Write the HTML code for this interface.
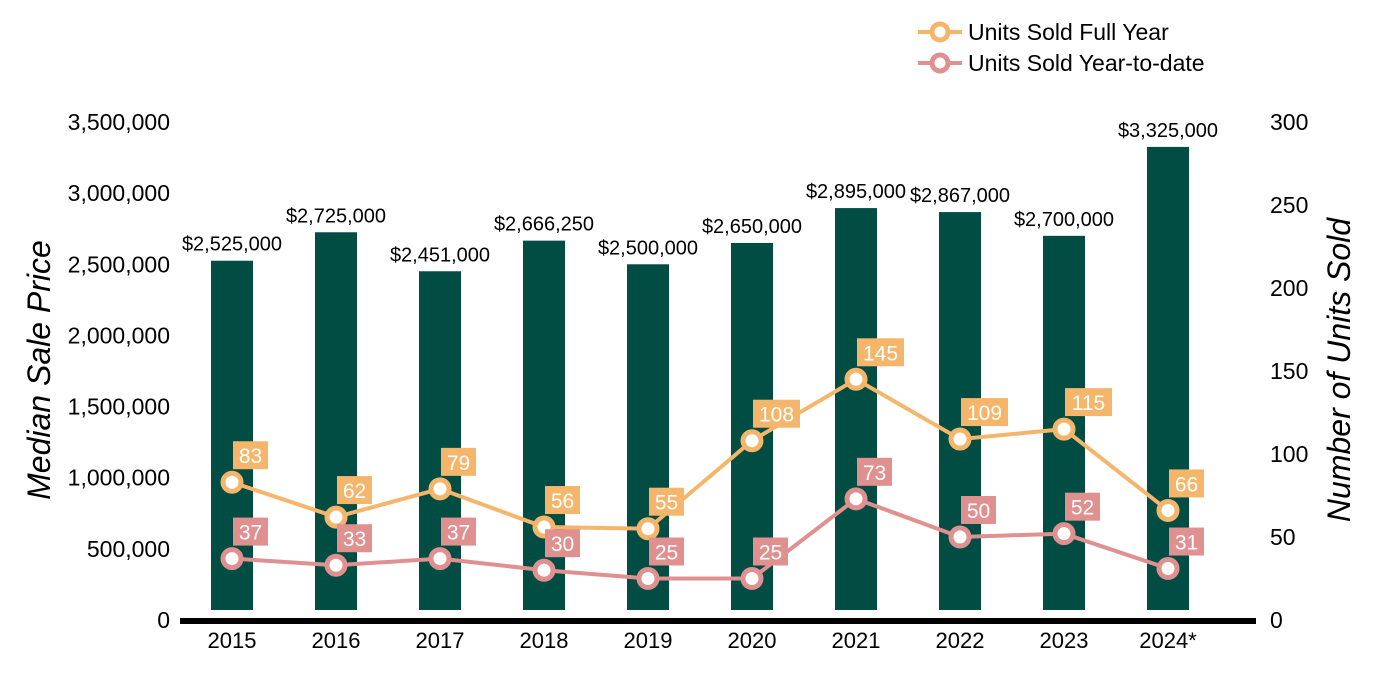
<!DOCTYPE html>
<html><head><meta charset="utf-8"><style>
body{margin:0;background:#fff;}
svg{display:block;font-family:"Liberation Sans",Arial,sans-serif;}
</style></head><body>
<svg id="chart" width="1400" height="700"></svg>
<script>
const years=["2015","2016","2017","2018","2019","2020","2021","2022","2023","2024*"];
const prices=[2525000,2725000,2451000,2666250,2500000,2650000,2895000,2867000,2700000,3325000];
const fullYear=[83,62,79,56,55,108,145,109,115,66];
const ytd=[37,33,37,30,25,25,73,50,52,31];
const leftTicks=[0,500000,1000000,1500000,2000000,2500000,3000000,3500000];
const rightTicks=[0,50,100,150,200,250,300];
const NS="http://www.w3.org/2000/svg";
const svg=document.getElementById('chart');
function el(t,a,p){const e=document.createElementNS(NS,t);for(const k in a)e.setAttribute(k,a[k]);(p||svg).appendChild(e);return e;}
const y0=620,yTop=122;
const yL=v=>y0-v/3500000*(y0-yTop);
const yR=v=>y0-v/300*(y0-yTop);
const xC=i=>232+i*104;
const fmt=v=>v.toLocaleString('en-US');
prices.forEach((v,i)=>{
  const r=el('rect',{x:xC(i)-21,y:yL(v),width:42,height:610-yL(v),fill:'#024D43'});
  
  
  const t=el('text',{x:xC(i),y:yL(v)-10,'text-anchor':'middle','font-size':20,fill:'#000'});
  t.textContent='$'+fmt(v);
  
  
});
const ax=el('line',{x1:180,x2:1256,y1:621,y2:621,stroke:'#000','stroke-width':6});


years.forEach((y,i)=>{
  const t=el('text',{x:xC(i),y:648,'text-anchor':'middle','font-size':22});
  t.textContent=y;
  
  
});
leftTicks.forEach(v=>{
  const t=el('text',{x:170,y:yL(v)+8,'text-anchor':'end','font-size':23});
  t.textContent=fmt(v);
  
  
});
rightTicks.forEach(v=>{
  const t=el('text',{x:1270,y:yR(v)+8,'text-anchor':'start','font-size':23});
  t.textContent=v;
  
  
});
let t=el('text',{x:0,y:0,transform:'translate(50,370) rotate(-90)','text-anchor':'middle','font-size':32,'font-style':'italic'});
t.textContent='Median Sale Price';


t=el('text',{x:0,y:0,transform:'translate(1350,370) rotate(-90)','text-anchor':'middle','font-size':32,'font-style':'italic'});
t.textContent='Number of Units Sold';


function series(data,color,name){
  const pl=el('polyline',{points:data.map((v,i)=>xC(i)+','+yR(v)).join(' '),fill:'none',stroke:color,'stroke-width':4});
  
  
  data.forEach((v,i)=>{
    const c=el('circle',{cx:xC(i),cy:yR(v),r:9,fill:'#fff',stroke:color,'stroke-width':5});
    
    
    const s=String(v);const w=s.length*12+11;
    const r=el('rect',{x:xC(i)+1,y:yR(v)-41,width:w,height:28,fill:color});
    
    
    const tx=el('text',{x:xC(i)+1+w/2,y:yR(v)-19,'text-anchor':'middle','font-size':21,fill:'#fff'});
    tx.textContent=s;
    
    
  });
}
series(fullYear,'#F5B66B','full-year');
series(ytd,'#E0908F','ytd');
[['Units Sold Full Year','#F5B66B',32],['Units Sold Year-to-date','#E0908F',63]].forEach(([lbl,c,y],k)=>{
  const g=el('g',{});
  
  
  el('line',{x1:918,x2:962,y1:y,y2:y,stroke:c,'stroke-width':4},g);
  el('circle',{cx:940,cy:y,r:8,fill:'#fff',stroke:c,'stroke-width':5},g);
  const tt=el('text',{x:968,y:y+8,'font-size':23},g);
  tt.textContent=lbl;
});
</script>
</body></html>
